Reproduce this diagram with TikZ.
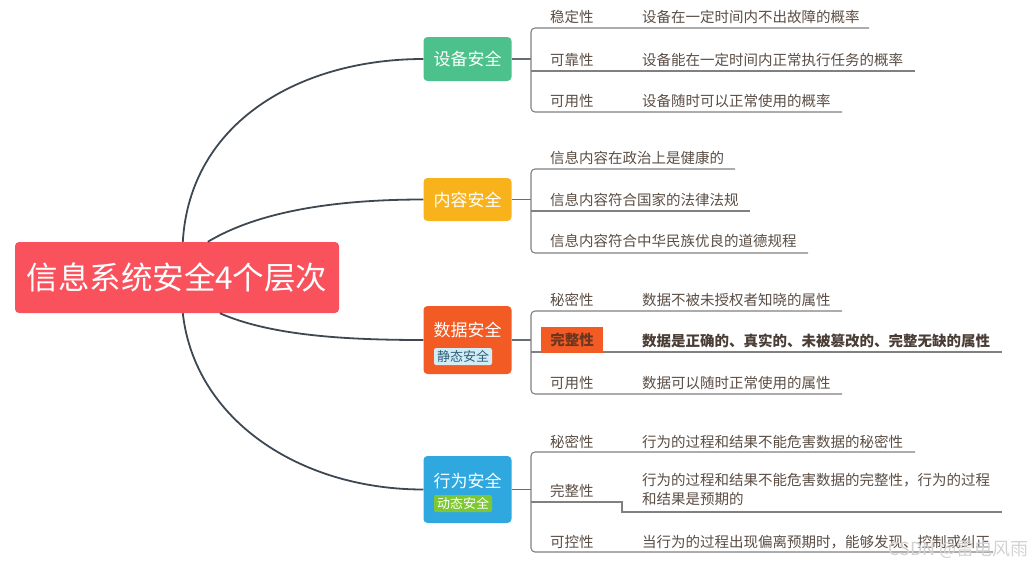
\documentclass[tikz,border=0pt]{standalone}
\usepackage{fontspec}
\setmainfont{Noto Sans CJK SC}
\definecolor{rootc}{HTML}{F9525D}
\definecolor{greenc}{HTML}{4DC18B}
\definecolor{yellowc}{HTML}{F8B31C}
\definecolor{orangec}{HTML}{F25B23}
\definecolor{bluec}{HTML}{2FA8DF}
\definecolor{textc}{HTML}{5A4D44}
\definecolor{boldc}{HTML}{4A3D35}
\definecolor{linec}{HTML}{3E4852}
\definecolor{ulc}{HTML}{808080}
\definecolor{tagbc}{HTML}{D3EDF7}
\definecolor{tagbt}{HTML}{2E5E78}
\definecolor{taggc}{HTML}{7DC832}
\definecolor{hlc}{HTML}{6B3520}
\definecolor{wmc}{HTML}{D2D2D2}
\begin{document}
\begin{tikzpicture}[x=1pt,y=-1pt,
  box/.style={rounded corners=4pt, minimum width=88pt, inner sep=0pt},
  btitle/.style={inner sep=0pt, text=white, font=\fontsize{17}{20}\selectfont},
  tagbox/.style={rounded corners=2pt, inner sep=0pt, minimum width=58pt, minimum height=17pt, font=\fontsize{13}{15}\selectfont},
  lab/.style={anchor=west, inner sep=0pt, text=textc, font=\fontsize{14.5}{19}\selectfont},
  curve/.style={draw=linec, line width=1.8pt},
  stub/.style={draw=linec!80, line width=1.4pt},
  ul/.style={draw=ulc, line width=1.1pt},
  brk/.style={draw=ulc, line width=1.1pt, rounded corners=4pt}]
\useasboundingbox (0,0) rectangle (1033,566);

% root
\node[box, fill=rootc, minimum width=324pt, minimum height=71pt, text=white,
      font=\fontsize{31.5}{34}\selectfont] (root) at (177,277.5) {信息系统安全4个层次};

% branch boxes
\node[box, fill=greenc, minimum height=44pt] (b1) at (467.5,59) {};
\node[btitle] (b1t) at (467.5,59) {设备安全};
\node[box, fill=yellowc, minimum height=43pt] (b2) at (467.5,199.5) {};
\node[btitle] (b2t) at (467.5,199.5) {内容安全};
\node[box, fill=orangec, minimum height=68pt] (b3) at (467.5,340) {};
\node[btitle] (b3t) at (467.5,330) {数据安全};
\node[tagbox, fill=tagbc, text=tagbt] (b3g) at (463,356.5) {静态安全};
\node[box, fill=bluec, minimum height=67pt] (b4) at (467.5,489.5) {};
\node[btitle] (b4t) at (467.5,481) {行为安全};
\node[tagbox, fill=taggc, text=white] (b4g) at (463,503.5) {动态安全};

% curves root -> branches
\draw[curve] ([xshift=168pt]root.north west) .. controls +(7,-120) and +(-123,0) .. (b1.west);
\draw[curve] ([xshift=193pt]root.north west) .. controls +(50,-30) and +(-90,0) .. (b2.west);
\draw[curve] ([xshift=205pt]root.south west) .. controls +(50,22) and +(-80,0) .. (b3.west);
\draw[curve] ([xshift=168pt]root.south west) .. controls +(12,107) and +(-123,0) .. (b4.west);

% ---------- group 1
\coordinate (j1) at (531,59);
\coordinate (j1a) at (531,28);  \coordinate (e1a) at (869,28);
\coordinate (j1b) at (531,71);  \coordinate (e1b) at (915,71);
\coordinate (j1c) at (531,112); \coordinate (e1c) at (842,112);
\draw[stub] (b1.east) -- (j1);
\draw[brk] (e1a) -- (j1a) -- (j1c) -- (e1c);
\draw[ul] (j1b) -- (e1b);
\node[lab] (l1a) at (550,17) {稳定性};
\node[lab] (d1a) at (642,17) {设备在一定时间内不出故障的概率};
\node[lab] (l1b) at (550,60) {可靠性};
\node[lab] (d1b) at (642,60) {设备能在一定时间内正常执行任务的概率};
\node[lab] (l1c) at (550,101) {可用性};
\node[lab] (d1c) at (642,101) {设备随时可以正常使用的概率};

% ---------- group 2
\coordinate (j2) at (531,199.5);
\coordinate (j2a) at (531,169); \coordinate (e2a) at (735,169);
\coordinate (j2b) at (531,211); \coordinate (e2b) at (750,211);
\coordinate (j2c) at (531,253); \coordinate (e2c) at (808,253);
\draw[stub] (b2.east) -- (j2);
\draw[brk] (e2a) -- (j2a) -- (j2c) -- (e2c);
\draw[ul] (j2b) -- (e2b);
\node[lab] (d2a) at (550,158) {信息内容在政治上是健康的};
\node[lab] (d2b) at (550,200) {信息内容符合国家的法律法规};
\node[lab] (d2c) at (550,241) {信息内容符合中华民族优良的道德规程};

% ---------- group 3
\coordinate (j3) at (531,340);
\coordinate (j3a) at (531,311); \coordinate (e3a) at (842,311);
\coordinate (j3b) at (531,352); \coordinate (e3b) at (1002,352);
\coordinate (j3c) at (531,394); \coordinate (e3c) at (842,394);
\draw[stub] (b3.east) -- (j3);
\draw[brk] (e3a) -- (j3a) -- (j3c) -- (e3c);
\draw[ul] (j3b) -- (e3b);
\node[lab] (l3a) at (550,300) {秘密性};
\node[lab] (d3a) at (642,300) {数据不被未授权者知晓的属性};
\node[fill=orangec, minimum width=62pt, minimum height=26pt, inner sep=0pt,
      text=hlc, font=\fontsize{14.5}{17}\selectfont\bfseries] (l3b) at (572,340) {完整性};
\node[lab, text=boldc, font=\fontsize{14.5}{17}\selectfont\bfseries] (d3b) at (642,341)
      {数据是正确的、真实的、未被篡改的、完整无缺的属性};
\node[lab] (l3c) at (550,383) {可用性};
\node[lab] (d3c) at (642,383) {数据可以随时正常使用的属性};

% ---------- group 4
\coordinate (j4) at (531,489.5);
\coordinate (j4a) at (531,452); \coordinate (e4a) at (915,452);
\coordinate (j4b) at (531,502); \coordinate (k4b) at (622,502);
\coordinate (m4b) at (622,512); \coordinate (e4b) at (1002,512);
\coordinate (j4c) at (531,552); \coordinate (e4c) at (993,552);
\draw[stub] (b4.east) -- (j4);
\draw[brk] (e4a) -- (j4a) -- (j4c) -- (e4c);
\draw[ul] (j4b) -- (k4b) -- (m4b) -- (e4b);
\node[lab] (l4a) at (550,442) {秘密性};
\node[lab] (d4a) at (642,442) {行为的过程和结果不能危害数据的秘密性};
\node[lab] (l4b) at (550,491) {完整性};
\node[lab, align=left] (d4b) at (642,489.5) {行为的过程和结果不能危害数据的完整性，行为的过程\\和结果是预期的};
\node[lab] (l4c) at (550,542) {可控性};
\node[lab] (d4c) at (642,542) {当行为的过程出现偏离预期时，能够发现、控制或纠正};

% watermark
\node[anchor=east, inner sep=0pt, text=wmc, font=\fontsize{18}{20}\selectfont] (wm) at (1029,550) {CSDN @雷电风雨};
\end{tikzpicture}
\end{document}
